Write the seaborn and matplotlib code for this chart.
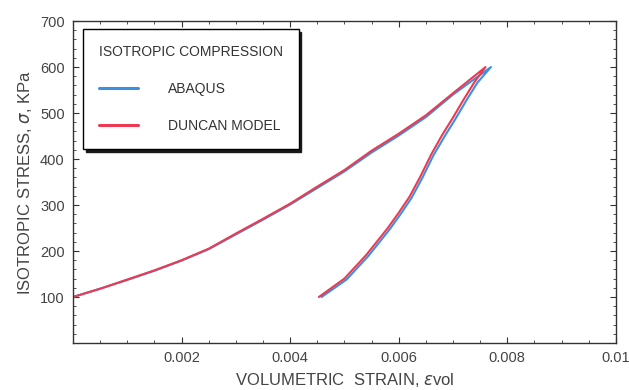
import numpy as np
import pandas as pd
import matplotlib
matplotlib.use("Agg")
import matplotlib.pyplot as plt
import seaborn as sns
from matplotlib.ticker import MultipleLocator

# Data (loading path, then unloading path)
duncan_strain = [0.0, 0.0005, 0.0010, 0.0015, 0.0020, 0.0025, 0.0030, 0.0035, 0.0040, 0.0045,
                 0.0050, 0.0055, 0.0060, 0.0065, 0.0070, 0.0076,
                 0.0074, 0.0072, 0.0070, 0.0068, 0.0066, 0.0064, 0.0062, 0.0060, 0.0058,
                 0.0054, 0.0050, 0.00453]
duncan_stress = [100, 118, 138, 158, 180, 205, 238, 270, 303, 340,
                 376, 418, 455, 495, 543, 600,
                 568, 530, 490, 452, 410, 362, 318, 283, 250,
                 191, 140, 100]
abaqus_strain = [0.0, 0.0005, 0.0010, 0.0015, 0.0020, 0.0025, 0.0030, 0.0035, 0.0040, 0.0045,
                 0.0050, 0.0055, 0.0060, 0.0065, 0.0070, 0.0077,
                 0.00745, 0.00725, 0.00705, 0.00685, 0.00664, 0.00644, 0.00624, 0.00604, 0.00584,
                 0.00544, 0.00504, 0.00458]
abaqus_stress = [100, 118, 137, 157, 179, 204, 236, 268, 301, 337,
                 373, 414, 451, 491, 540, 600,
                 566, 528, 488, 450, 408, 360, 316, 281, 248,
                 189, 138, 100]

x_ticks = [0.002, 0.004, 0.006, 0.008, 0.01]
x_ticklabels = ["0.002", "0.004", "0.006", "0.008", "0.01"]
y_ticks = [100, 200, 300, 400, 500, 600, 700]

df = pd.concat([
    pd.DataFrame({"strain": abaqus_strain, "stress": abaqus_stress, "model": "ABAQUS"}),
    pd.DataFrame({"strain": duncan_strain, "stress": duncan_stress, "model": "DUNCAN MODEL"}),
], ignore_index=True)

sns.set_style("ticks")
plt.rcParams["font.family"] = ["Liberation Sans Narrow", "Liberation Sans", "DejaVu Sans"]

fig = plt.figure(figsize=(6.29, 3.90), dpi=100)
ax = fig.add_axes([0.116, 0.1205, 0.863, 0.8255])

palette = {"ABAQUS": "#3d8fe0", "DUNCAN MODEL": "#ec3a52"}
sns.lineplot(data=df, x="strain", y="stress", hue="model", palette=palette,
             sort=False, estimator=None, linewidth=1.5, ax=ax)

ax.set_xlim(0, 0.01)
ax.set_ylim(0, 700)
ax.set_xticks(x_ticks)
ax.set_xticklabels(x_ticklabels)
ax.set_yticks(y_ticks)
ax.xaxis.set_minor_locator(MultipleLocator(0.0005))
ax.yaxis.set_minor_locator(MultipleLocator(20))
ax.tick_params(axis="both", which="both", direction="in", top=True, right=True,
               colors="#333333", labelcolor="#444444")
ax.tick_params(axis="both", which="major", length=4, labelsize=10.5, pad=6)
ax.tick_params(axis="both", which="minor", length=2)
for s in ax.spines.values():
    s.set_color("#333333")
    s.set_linewidth(1.0)

ax.set_ylabel("ISOTROPIC STRESS, $\\sigma$, KPa", fontsize=12, color="#444444", labelpad=4)
ax.set_xlabel("VOLUMETRIC  STRAIN, $\\varepsilon$vol", fontsize=12, color="#444444", labelpad=4)

handles, labels = ax.get_legend_handles_labels()
leg = ax.legend(handles, labels, title="ISOTROPIC COMPRESSION", loc="upper left",
                bbox_to_anchor=(0.018, 0.975), frameon=True, fancybox=False,
                shadow={"color": "#1a1a1a", "alpha": 1.0}, edgecolor="black",
                fontsize=10, title_fontsize=10, labelspacing=1.65, handlelength=2.8,
                handletextpad=2.2, borderpad=1.15, borderaxespad=0, alignment="left")
leg.get_frame().set_linewidth(1.0)
for t in leg.get_texts():
    t.set_color("#333333")
leg.get_title().set_color("#333333")
for l in leg.get_lines():
    l.set_linewidth(2.2)

fig.savefig("out.png", dpi=100)
